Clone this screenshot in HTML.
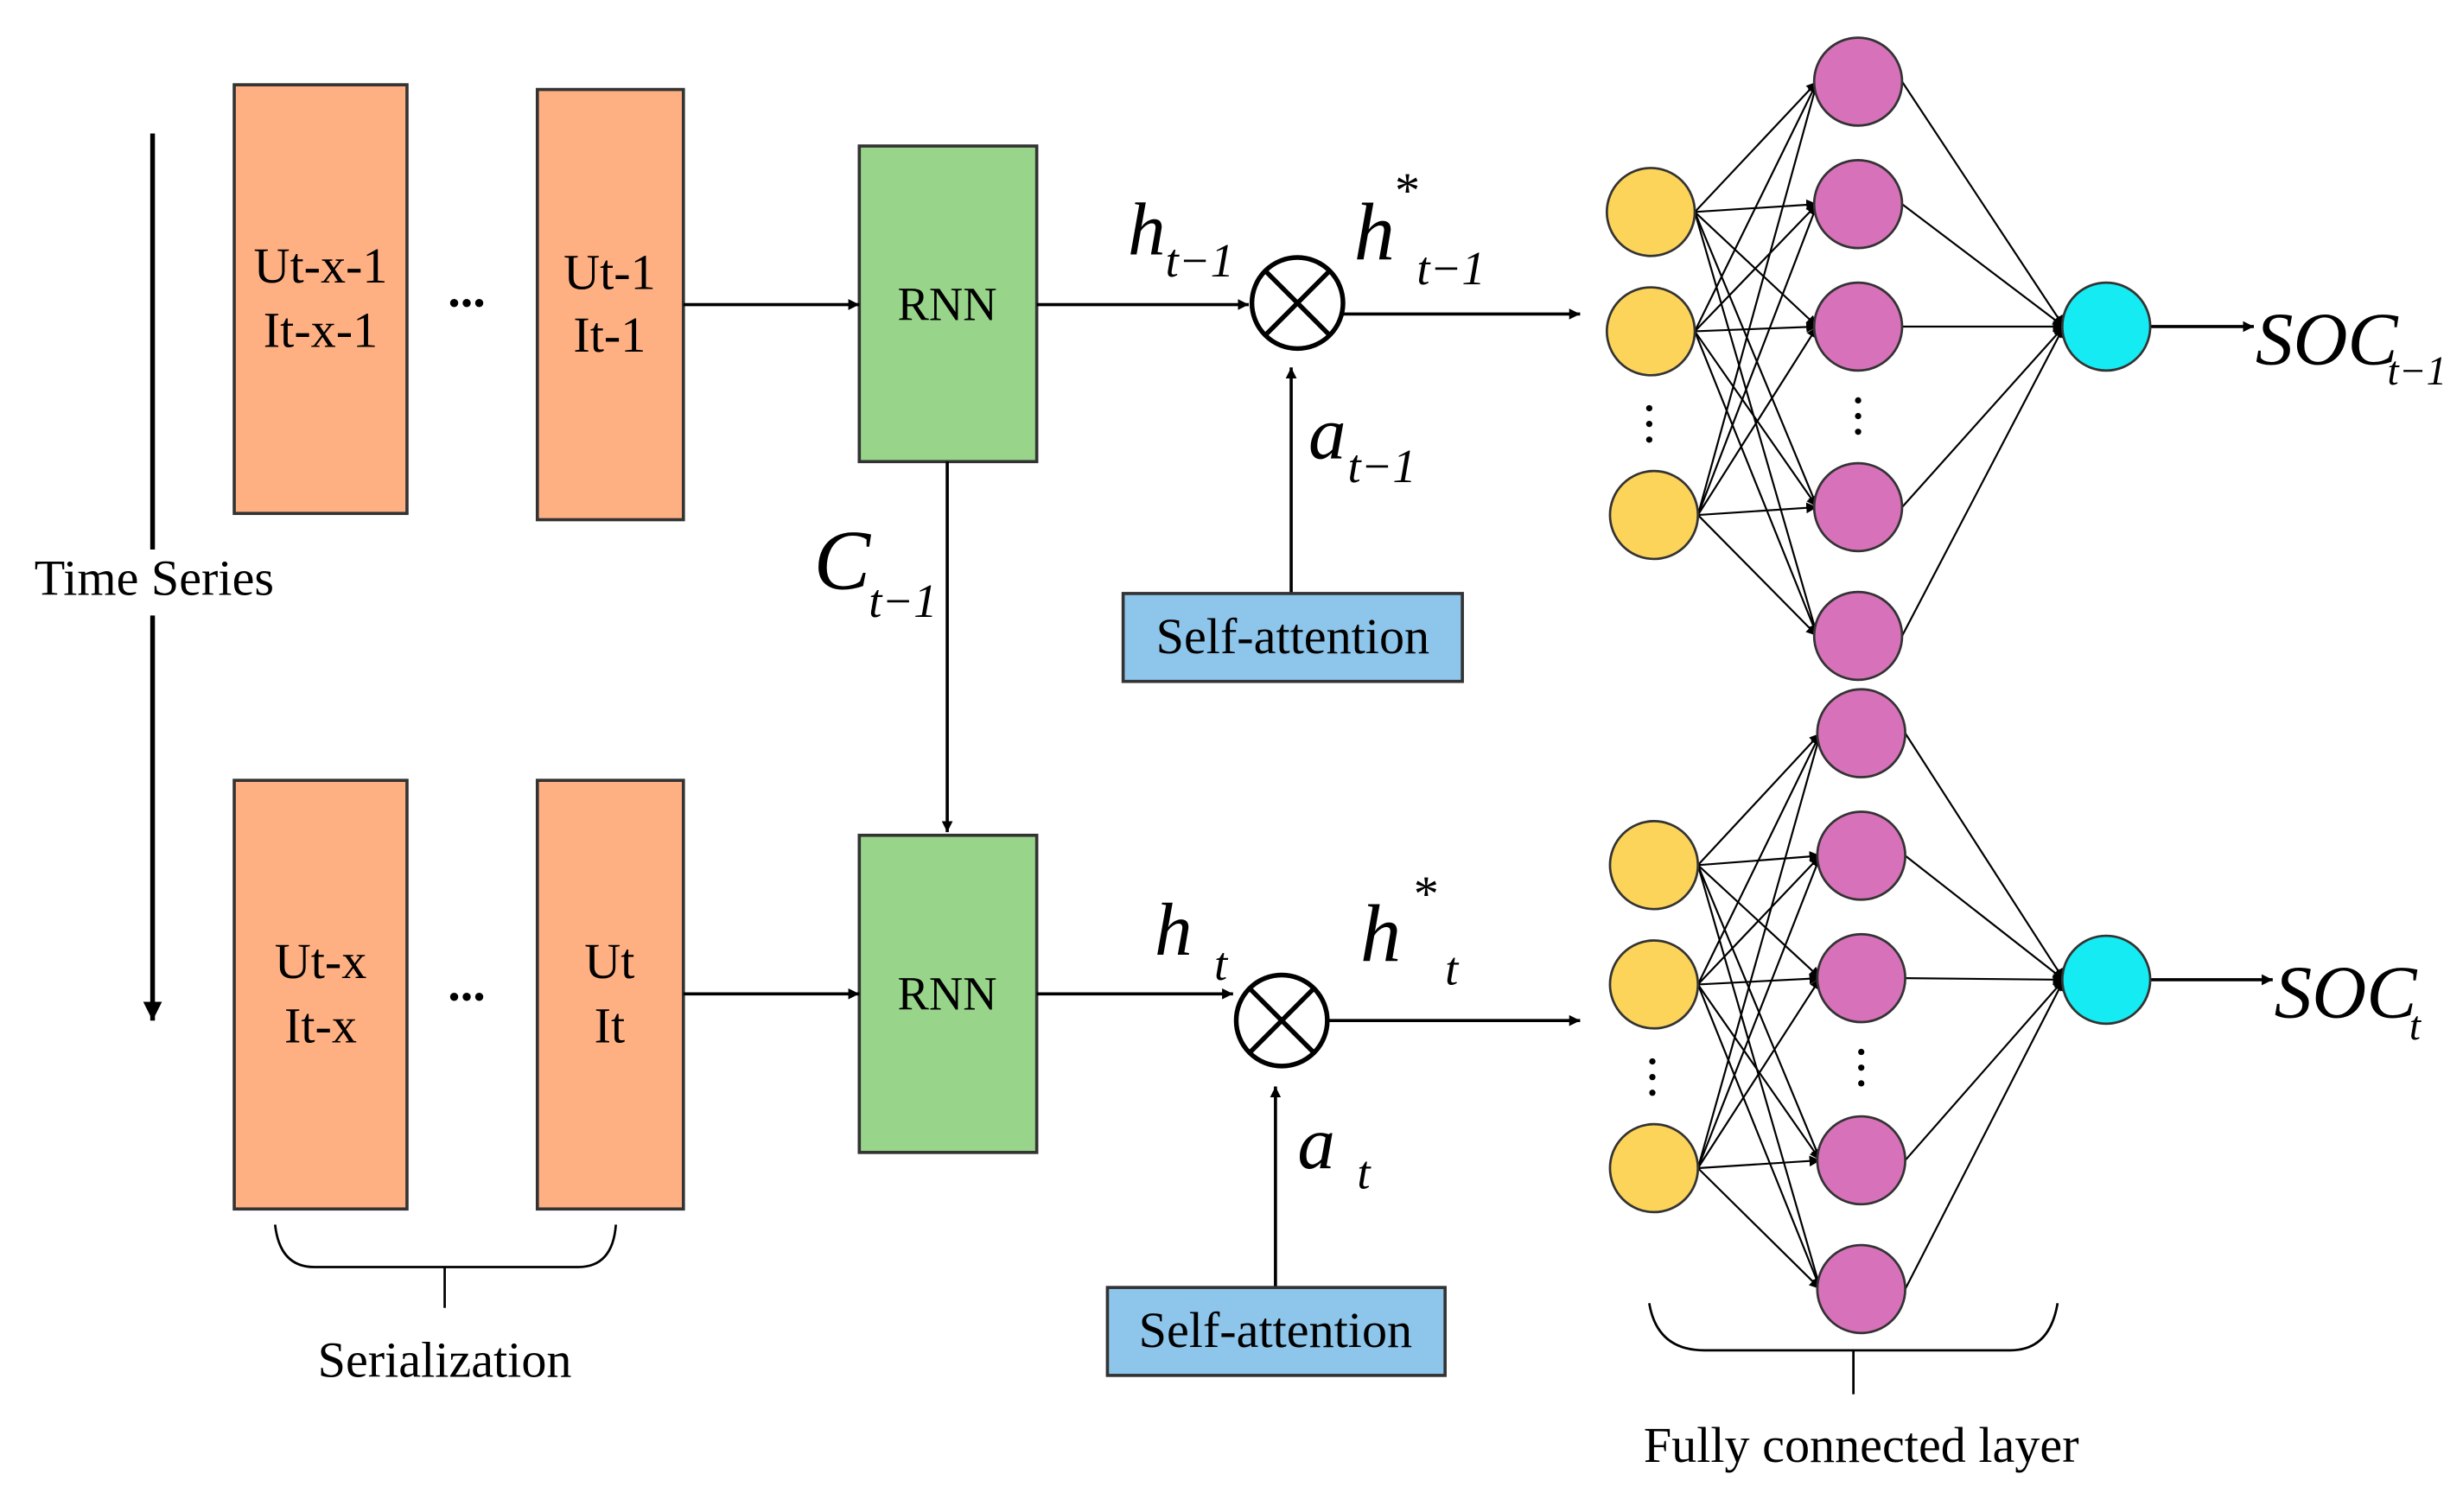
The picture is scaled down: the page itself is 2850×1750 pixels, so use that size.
<!DOCTYPE html>
<html><head><meta charset="utf-8"><style>
html,body{margin:0;padding:0;background:#fff;}
svg{display:block;}
text{font-family:"Liberation Serif","Times New Roman",serif;fill:#000;}
.m{font-style:italic;}
</style></head><body>
<svg width="2850" height="1750" viewBox="0 0 1568 963" xmlns="http://www.w3.org/2000/svg">
<defs>
<marker id="a" viewBox="0 0 10 10" refX="10" refY="5" markerWidth="7" markerHeight="7" markerUnits="userSpaceOnUse" orient="auto"><path d="M0,0L10,5L0,10z" fill="#000"/></marker>
<marker id="b" viewBox="0 0 10 10" refX="10" refY="5" markerWidth="12" markerHeight="12" markerUnits="userSpaceOnUse" orient="auto"><path d="M0,0L10,5L0,10z" fill="#000"/></marker>
</defs>
<g stroke="#000" stroke-width="2" fill="none">
<line x1="97" y1="85" x2="97" y2="350" stroke-width="3"/>
<line x1="97" y1="392" x2="97" y2="650" stroke-width="3" marker-end="url(#b)"/>
</g>
<text x="98" y="379" font-size="32" text-anchor="middle">Time Series</text>
<g fill="#FFB083" stroke="#333" stroke-width="2">
<rect x="149" y="54" width="110" height="273"/>
<rect x="342" y="57" width="93" height="274"/>
<rect x="149" y="497" width="110" height="273"/>
<rect x="342" y="497" width="93" height="273"/>
</g>
<g font-size="32" text-anchor="middle">
<text x="204" y="180">Ut-x-1</text><text x="204" y="221">It-x-1</text>
<text x="388" y="184">Ut-1</text><text x="388" y="224">It-1</text>
<text x="204" y="623">Ut-x</text><text x="204" y="664">It-x</text>
<text x="388" y="623">Ut</text><text x="388" y="664">It</text>
<text x="297" y="195" font-weight="bold">...</text><text x="297" y="637" font-weight="bold">...</text>
</g>
<g fill="#98D48A" stroke="#333" stroke-width="2">
<rect x="547" y="93" width="113" height="201"/>
<rect x="547" y="532" width="113" height="202"/>
</g>
<text x="603" y="204" font-size="30" text-anchor="middle">RNN</text>
<text x="603" y="643" font-size="30" text-anchor="middle">RNN</text>
<g stroke="#000" stroke-width="2" fill="none">
<line x1="435" y1="194" x2="547" y2="194" marker-end="url(#a)"/>
<line x1="435" y1="633" x2="547" y2="633" marker-end="url(#a)"/>
<line x1="660" y1="194" x2="795" y2="194" marker-end="url(#a)"/>
<line x1="660" y1="633" x2="785" y2="633" marker-end="url(#a)"/>
<line x1="603" y1="294" x2="603" y2="530" marker-end="url(#a)"/>
<line x1="855" y1="200" x2="1006" y2="200" marker-end="url(#a)"/>
<line x1="845" y1="650" x2="1006" y2="650" marker-end="url(#a)"/>
<line x1="822" y1="378" x2="822" y2="234" marker-end="url(#a)"/>
<line x1="812" y1="820" x2="812" y2="692" marker-end="url(#a)"/>
<circle cx="826" cy="193" r="29" stroke-width="3"/>
<path d="M806,173L846,213M846,173L806,213" stroke-width="3"/>
<circle cx="816" cy="650" r="29" stroke-width="3"/>
<path d="M796,630L836,670M836,630L796,670" stroke-width="3"/>
</g>
<g fill="#8EC5EA" stroke="#333" stroke-width="2">
<rect x="715" y="378" width="216" height="56"/>
<rect x="705" y="820" width="215" height="56"/>
</g>
<text x="823" y="416" font-size="32" text-anchor="middle">Self-attention</text>
<text x="812" y="858" font-size="32" text-anchor="middle">Self-attention</text>
<text x="718" y="162" font-size="48" class="m">h</text><text x="742" y="176" font-size="30" class="m">t−1</text>
<text x="862" y="165" font-size="52" class="m">h</text><text x="888" y="132" font-size="32">*</text><text x="902" y="181" font-size="30" class="m">t−1</text>
<text x="833" y="292" font-size="48" class="m">a</text><text x="858" y="307" font-size="30" class="m">t−1</text>
<text x="518" y="375" font-size="54" class="m">C</text><text x="553" y="393" font-size="30" class="m">t−1</text>
<text x="735" y="608" font-size="48" class="m">h</text><text x="773" y="624" font-size="30" class="m">t</text>
<text x="866" y="612" font-size="52" class="m">h</text><text x="900" y="580" font-size="32">*</text><text x="920" y="627" font-size="30" class="m">t</text>
<text x="826" y="744" font-size="48" class="m">a</text><text x="864" y="757" font-size="30" class="m">t</text>
<text x="1436" y="232" font-size="48" class="m">SOC</text><text x="1520" y="245" font-size="26" class="m">t−1</text>
<text x="1448" y="648" font-size="48" class="m">SOC</text><text x="1534" y="662" font-size="26" class="m">t</text>
<g stroke="#000" stroke-width="1.2" fill="none">
<line x1="1079" y1="135" x2="1157" y2="52" marker-end="url(#a)"/>
<line x1="1079" y1="135" x2="1157" y2="130" marker-end="url(#a)"/>
<line x1="1079" y1="135" x2="1157" y2="208" marker-end="url(#a)"/>
<line x1="1079" y1="135" x2="1157" y2="323" marker-end="url(#a)"/>
<line x1="1079" y1="135" x2="1157" y2="405" marker-end="url(#a)"/>
<line x1="1079" y1="211" x2="1157" y2="52" marker-end="url(#a)"/>
<line x1="1079" y1="211" x2="1157" y2="130" marker-end="url(#a)"/>
<line x1="1079" y1="211" x2="1157" y2="208" marker-end="url(#a)"/>
<line x1="1079" y1="211" x2="1157" y2="323" marker-end="url(#a)"/>
<line x1="1079" y1="211" x2="1157" y2="405" marker-end="url(#a)"/>
<line x1="1081" y1="328" x2="1157" y2="52" marker-end="url(#a)"/>
<line x1="1081" y1="328" x2="1157" y2="130" marker-end="url(#a)"/>
<line x1="1081" y1="328" x2="1157" y2="208" marker-end="url(#a)"/>
<line x1="1081" y1="328" x2="1157" y2="323" marker-end="url(#a)"/>
<line x1="1081" y1="328" x2="1157" y2="405" marker-end="url(#a)"/>
<line x1="1211" y1="52" x2="1314" y2="208" marker-end="url(#a)"/>
<line x1="1211" y1="130" x2="1314" y2="208" marker-end="url(#a)"/>
<line x1="1211" y1="208" x2="1314" y2="208" marker-end="url(#a)"/>
<line x1="1211" y1="323" x2="1314" y2="208" marker-end="url(#a)"/>
<line x1="1211" y1="405" x2="1314" y2="208" marker-end="url(#a)"/>
<line x1="1369" y1="208" x2="1435" y2="208" stroke-width="2" marker-end="url(#a)"/>
<line x1="1081" y1="551" x2="1159" y2="467" marker-end="url(#a)"/>
<line x1="1081" y1="551" x2="1159" y2="545" marker-end="url(#a)"/>
<line x1="1081" y1="551" x2="1159" y2="623" marker-end="url(#a)"/>
<line x1="1081" y1="551" x2="1159" y2="739" marker-end="url(#a)"/>
<line x1="1081" y1="551" x2="1159" y2="821" marker-end="url(#a)"/>
<line x1="1081" y1="627" x2="1159" y2="467" marker-end="url(#a)"/>
<line x1="1081" y1="627" x2="1159" y2="545" marker-end="url(#a)"/>
<line x1="1081" y1="627" x2="1159" y2="623" marker-end="url(#a)"/>
<line x1="1081" y1="627" x2="1159" y2="739" marker-end="url(#a)"/>
<line x1="1081" y1="627" x2="1159" y2="821" marker-end="url(#a)"/>
<line x1="1081" y1="744" x2="1159" y2="467" marker-end="url(#a)"/>
<line x1="1081" y1="744" x2="1159" y2="545" marker-end="url(#a)"/>
<line x1="1081" y1="744" x2="1159" y2="623" marker-end="url(#a)"/>
<line x1="1081" y1="744" x2="1159" y2="739" marker-end="url(#a)"/>
<line x1="1081" y1="744" x2="1159" y2="821" marker-end="url(#a)"/>
<line x1="1213" y1="467" x2="1314" y2="624" marker-end="url(#a)"/>
<line x1="1213" y1="545" x2="1314" y2="624" marker-end="url(#a)"/>
<line x1="1213" y1="623" x2="1314" y2="624" marker-end="url(#a)"/>
<line x1="1213" y1="739" x2="1314" y2="624" marker-end="url(#a)"/>
<line x1="1213" y1="821" x2="1314" y2="624" marker-end="url(#a)"/>
<line x1="1369" y1="624" x2="1447" y2="624" stroke-width="2" marker-end="url(#a)"/>
</g>
<g stroke="#333" stroke-width="1.5">
<g fill="#FDD45A">
<circle cx="1051" cy="135" r="28"/><circle cx="1051" cy="211" r="28"/><circle cx="1053" cy="328" r="28"/>
<circle cx="1053" cy="551" r="28"/><circle cx="1053" cy="627" r="28"/><circle cx="1053" cy="744" r="28"/>
</g>
<g fill="#D771B9">
<circle cx="1183" cy="52" r="28"/><circle cx="1183" cy="130" r="28"/><circle cx="1183" cy="208" r="28"/><circle cx="1183" cy="323" r="28"/><circle cx="1183" cy="405" r="28"/>
<circle cx="1185" cy="467" r="28"/><circle cx="1185" cy="545" r="28"/><circle cx="1185" cy="623" r="28"/><circle cx="1185" cy="739" r="28"/><circle cx="1185" cy="821" r="28"/>
</g>
<g fill="#14EBF2">
<circle cx="1341" cy="208" r="28"/><circle cx="1341" cy="624" r="28"/>
</g>
</g>
<g fill="#000">
<circle cx="1050" cy="260" r="2"/><circle cx="1050" cy="270" r="2"/><circle cx="1050" cy="280" r="2"/>
<circle cx="1183" cy="255" r="2"/><circle cx="1183" cy="265" r="2"/><circle cx="1183" cy="275" r="2"/>
<circle cx="1052" cy="676" r="2"/><circle cx="1052" cy="686" r="2"/><circle cx="1052" cy="696" r="2"/>
<circle cx="1185" cy="670" r="2"/><circle cx="1185" cy="680" r="2"/><circle cx="1185" cy="690" r="2"/>
</g>
<g stroke="#000" stroke-width="1.5" fill="none">
<path d="M175,780Q178,807 200,807L368,807Q390,807 392,780"/>
<line x1="283" y1="807" x2="283" y2="833"/>
<path d="M1050,830Q1055,860 1085,860L1280,860Q1305,860 1310,830"/>
<line x1="1180" y1="860" x2="1180" y2="888"/>
</g>
<text x="283" y="877" font-size="32" text-anchor="middle">Serialization</text>
<text x="1185" y="931" font-size="32" text-anchor="middle">Fully connected layer</text>
</svg>
</body></html>
